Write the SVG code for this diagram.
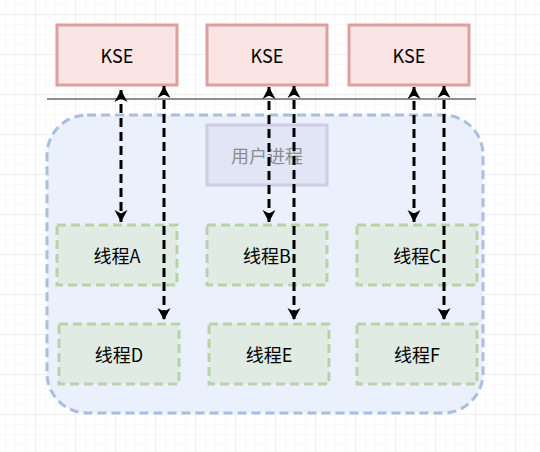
<svg xmlns="http://www.w3.org/2000/svg" width="540" height="452" viewBox="0 0 540 452">
<defs>
<pattern id="minor" x="5" y="4" width="10" height="10" patternUnits="userSpaceOnUse">
<path d="M0,0 H10 M0,0 V10" stroke="#f3f3f3" stroke-width="1" fill="none"/>
</pattern>
<pattern id="major" x="35" y="14" width="40" height="40" patternUnits="userSpaceOnUse">
<path d="M0,0 H40 M0,0 V40" stroke="#e6e6e6" stroke-width="1" fill="none"/>
</pattern>
<marker id="arr" markerUnits="userSpaceOnUse" viewBox="-13 -8 14 16" refX="0" refY="0" markerWidth="14" markerHeight="16" orient="auto-start-reverse">
<path d="M0,0 L-12,-6.5 L-8.5,0 L-12,6.5 Z" fill="#000"/>
</marker>
<style>
.kse{fill:#fbe4e4;stroke:#dca09f;stroke-width:3}
.thr{fill:#dfebe3;stroke:#b8d3a9;stroke-width:3;stroke-dasharray:9 5}
.lbl{font-family:"Noto Sans CJK SC","Liberation Sans",sans-serif;font-size:18px;fill:#000;text-anchor:middle;dominant-baseline:central}
.con{stroke:#000;stroke-width:3;stroke-dasharray:9 5;fill:none;marker-start:url(#arr);marker-end:url(#arr)}
</style>
</defs>
<rect width="540" height="452" fill="#fff"/>
<rect width="540" height="452" fill="url(#minor)"/>
<rect width="540" height="452" fill="url(#major)"/>
<g id="kse1"><rect class="kse" x="57" y="25" width="120" height="60"/><text class="lbl" x="117" y="55">KSE</text></g>
<g id="kse2"><rect class="kse" x="207" y="25" width="120" height="60"/><text class="lbl" x="267" y="55">KSE</text></g>
<g id="kse3"><rect class="kse" x="349" y="25" width="120" height="60"/><text class="lbl" x="409" y="55">KSE</text></g>
<g id="divider"><line x1="47" y1="99" x2="476" y2="99" stroke="#6a6a6a" stroke-width="1.5"/></g>
<g id="process-container"><rect x="47" y="115" width="436" height="298" rx="40" ry="40" fill="#eaf1fc" stroke="#aabfe0" stroke-width="3" stroke-dasharray="9 5"/></g>
<g id="user-process"><rect x="207" y="125" width="120" height="60" fill="#e2e5f6" stroke="#cfcde6" stroke-width="3"/><text class="lbl" x="267" y="155" style="fill:#8c8c8c">用户进程</text></g>
<g id="threadA"><rect class="thr" x="57" y="225" width="120" height="60"/><text class="lbl" x="117" y="255">线程A</text></g>
<g id="threadB"><rect class="thr" x="207" y="225" width="120" height="60"/><text class="lbl" x="267" y="255">线程B</text></g>
<g id="threadC"><rect class="thr" x="357" y="225" width="120" height="60"/><text class="lbl" x="417" y="255">线程C</text></g>
<g id="threadD"><rect class="thr" x="59" y="324" width="120" height="60"/><text class="lbl" x="119" y="354">线程D</text></g>
<g id="threadE"><rect class="thr" x="209" y="324" width="120" height="60"/><text class="lbl" x="269" y="354">线程E</text></g>
<g id="threadF"><rect class="thr" x="357" y="324" width="120" height="60"/><text class="lbl" x="417" y="354">线程F</text></g>
<g id="connectors">
<line class="con" x1="121" y1="90" x2="121" y2="222"/>
<line class="con" x1="164" y1="86" x2="164" y2="320"/>
<line class="con" x1="269" y1="87" x2="269" y2="222"/>
<line class="con" x1="294" y1="86" x2="294" y2="320"/>
<line class="con" x1="414" y1="87" x2="414" y2="222"/>
<line class="con" x1="444" y1="86" x2="444" y2="320"/>
</g>
</svg>
